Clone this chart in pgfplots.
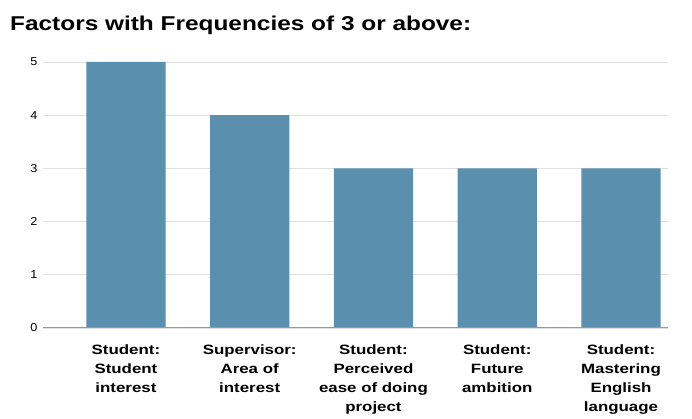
\documentclass[border=0pt]{standalone}
\usepackage{pgfplots}
\pgfplotsset{compat=1.18}
\usepackage{fontspec}
\setmainfont{Liberation Sans}
\newfontfamily\widett[FakeStretch=1.22]{Liberation Sans}
\newfontfamily\widelab[FakeStretch=1.25]{Liberation Sans}
\newfontfamily\widetick[FakeStretch=1.1]{Liberation Sans}
\definecolor{barc}{HTML}{5A8FAE}
\begin{document}
\begin{tikzpicture}
\useasboundingbox (-43pt,-91pt) rectangle (649pt,328pt);
\node[anchor=base west, inner sep=0pt, font=\widett\bfseries\fontsize{20}{22}\selectfont] at (-33pt,297pt) {Factors with Frequencies of 3 or above:};
\begin{axis}[
  scale only axis, width=625pt, height=266pt,
  xmin=-0.67, xmax=4.38, ymin=0, ymax=5,
  axis line style={draw=none},
  ytick={0,1,2,3,4,5},
  xtick={0,1,2,3,4},
  xticklabels={{Student:\\Student\\interest},{Supervisor:\\Area of\\interest},{Student:\\Perceived\\ease of doing\\project},{Student:\\Future\\ambition},{Student:\\Mastering\\English\\language}},
  xticklabel style={font=\widelab\bfseries\fontsize{13.5}{19}\selectfont, align=center, anchor=north, yshift=-13pt},
  yticklabel style={font=\widetick\fontsize{11.5}{13}\selectfont, xshift=-2pt},
  /pgf/number format/assume math mode=true,
  major tick length=0pt,
  ymajorgrids, grid style={draw=black!12, line width=0.8pt},
  clip=false,
]
\addplot[ybar, bar width=0.64, fill=barc, draw=none] coordinates {(0,5) (1,4) (2,3) (3,3) (4,3)};
\draw[black!40, line width=1pt] (rel axis cs:0,0) -- (rel axis cs:1,0);
\end{axis}
\end{tikzpicture}
\end{document}
